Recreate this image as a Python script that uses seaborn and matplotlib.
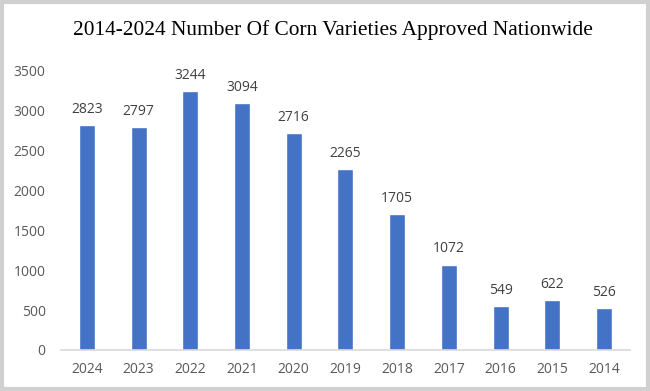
import matplotlib
matplotlib.use("Agg")
import matplotlib.pyplot as plt
import seaborn as sns
import pandas as pd
from matplotlib.patches import Rectangle

years = ["2024", "2023", "2022", "2021", "2020", "2019", "2018", "2017", "2016", "2015", "2014"]
counts = [2823, 2797, 3244, 3094, 2716, 2265, 1705, 1072, 549, 622, 526]
title = "2014-2024 Number Of Corn Varieties Approved Nationwide"

sns.set_theme(style="white")
plt.rcParams["font.family"] = ["Open Sans", "DejaVu Sans"]

df = pd.DataFrame({"year": years, "count": counts})

fig = plt.figure(figsize=(6.5, 3.91), dpi=100)
ax = fig.add_axes([0.0938, 0.1049, 0.8754, 0.7136])
sns.barplot(data=df, x="year", y="count", order=years, color="#4472C4",
            saturation=1, width=0.31, ax=ax)

ax.set_ylim(0, 3500)
ax.set_yticks(range(0, 3501, 500))
ax.set_xlabel("")
ax.set_ylabel("")
for s in ["top", "right", "left"]:
    ax.spines[s].set_visible(False)
ax.spines["bottom"].set_color("#d9d9d9")
ax.spines["bottom"].set_linewidth(1.2)
ax.tick_params(axis="both", length=0, labelsize=10, colors="#595959")
ax.tick_params(axis="y", pad=11)
ax.tick_params(axis="x", pad=9)

for i, v in enumerate(counts):
    ax.annotate(str(v), (i, v), xytext=(0, 6), textcoords="offset points",
                ha="center", va="bottom", fontsize=10, color="#404040")

fig.text(0.512, 0.922, title, ha="center", va="center", fontsize=15.4,
         family="Liberation Serif", color="black")

fig.patches.append(Rectangle((0.003, 0.004), 0.994, 0.992, transform=fig.transFigure,
                             fill=False, edgecolor="#d0d0d0", linewidth=3))

fig.savefig("out.png", dpi=100)
